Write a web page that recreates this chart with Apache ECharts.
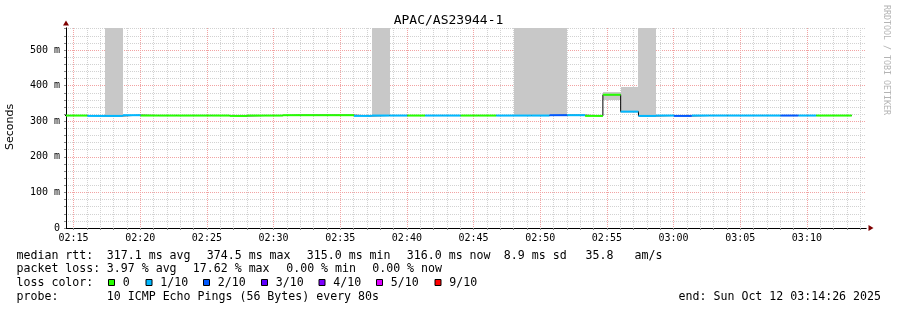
<!DOCTYPE html>
<html><head><meta charset="utf-8">
<script src="https://cdn.jsdelivr.net/npm/echarts@6/dist/echarts.min.js"></script>
<style>html,body{margin:0;padding:0;background:#fff}#c{width:897px;height:310px}</style>
</head><body><div id="c"></div>
<script>
// ---------- data ----------
const axisStart = '02:14:26';
const axisEnd = '03:14:26';
const stepTimes = ['02:13:22','02:14:42','02:16:02','02:17:22','02:18:42','02:20:02','02:21:22','02:22:42','02:24:02','02:25:22',
  '02:26:42','02:28:02','02:29:22','02:30:42','02:32:02','02:33:22','02:34:42','02:36:02','02:37:22','02:38:42',
  '02:40:02','02:41:22','02:42:42','02:44:02','02:45:22','02:46:42','02:48:02','02:49:22','02:50:42','02:52:02',
  '02:53:22','02:54:42','02:56:02','02:57:22','02:58:42','03:00:02','03:01:22','03:02:42','03:04:02','03:05:22',
  '03:06:42','03:08:02','03:09:22','03:10:42','03:12:02'];
const lastStepEnd = '03:13:22';
const medians = [316,316,315,315,317,316,316,316,316,316,
  315,316,316,317,317,317,317,315,316,316,
  316,316,316,316,316,316,316,316,317,317,
  315,374.5,327,315,316,315,316,316,316,316,
  316,316,316,316,316];
const lossLevels = [0,0,1,1,1,0,0,0,0,0,
  0,0,0,0,0,0,0,1,1,1,
  0,1,1,0,0,1,1,1,2,1,
  0,0,1,1,1,2,1,1,1,1,
  1,2,1,0,0];
const smokeLow = [null,null,null,315,null,null,null,null,null,null,
  null,null,null,null,null,null,null,null,316,null,
  null,null,null,null,null,null,316,316,317,null,
  null,359,327,315,null,null,null,null,null,null,
  null,null,null,null,null];
const smokeHigh = [null,null,null,562,null,null,null,null,null,null,
  null,null,null,null,null,null,null,null,562,null,
  null,null,null,null,null,null,562,562,562,null,
  null,381,397,562,null,null,null,null,null,null,
  null,null,null,null,null];
const lossNames = ['0','1/10','2/10','3/10','4/10','5/10','9/10'];
const lossColors = ['#26ff00','#00b8ff','#0059ff','#5e00ff','#7e00ff','#dd00ff','#ff0000'];
const xTickLabels = ['02:15','02:20','02:25','02:30','02:35','02:40','02:45','02:50','02:55','03:00','03:05','03:10'];
const yTickValues = [0,100,200,300,400,500];
const yTickLabels = ['0','100 m','200 m','300 m','400 m','500 m'];
const yMax = 562;
const title = 'APAC/AS23944-1';
const rttStats = ['317.1 ms avg','374.5 ms max','315.0 ms min','316.0 ms now','8.9 ms sd','35.8','am/s'];
const lossStats = ['3.97 % avg','17.62 % max','0.00 % min','0.00 % now'];
const probeText = '10 ICMP Echo Pings (56 Bytes) every 80s';
const endText = 'end: Sun Oct 12 03:14:26 2025';

// ---------- helpers ----------
function sec(s){const p=s.split(':').map(Number);return p[0]*3600+p[1]*60+(p[2]||0);}
function hhmm(v){const h=Math.floor(v/3600),m=Math.floor((v%3600)/60);return String(h).padStart(2,'0')+':'+String(m).padStart(2,'0');}
const tMin = sec(axisStart), tMax = sec(axisEnd);
const starts = stepTimes.map(sec);
const ends = starts.slice(1).concat([sec(lastStepEnd)]);
const majorVals = xTickLabels.map(sec);
const minuteVals = [];
for (let t = majorVals[0]; t <= tMax; t += 60) minuteVals.push(t);
const yGridVals = [];
for (let v = 0; v <= yMax; v += 20) yGridVals.push(v);

const lineData = starts.map((t,i)=>[t, ends[i], medians[i], lossLevels[i]]);
const smokeData = [];
starts.forEach((t,i)=>{ if (smokeLow[i]!=null) smokeData.push([t, ends[i], smokeLow[i], smokeHigh[i]]); });
const blackData = starts.map((t,i)=>[t, medians[i]]).concat([[ends[ends.length-1], medians[medians.length-1]]]);

const MONO = '"DejaVu Sans Mono"';
const FONT = '11.6px ' + MONO;
const gridRed = '#f2a3a3', gridGray = '#d2d2d2';

// ---------- graphic (legend texts) ----------
const rowY = [255.5, 269, 283, 297];
const graphics = [];
function txt(s, x, y, align){
  graphics.push({type:'text', x:x, y:y, silent:true,
    style:{text:s, font:FONT, fill:'#000', align:align||'left', verticalAlign:'middle', textAlign:align||'left', textVerticalAlign:'middle'}});
}
const labelX = 16.5;
const rttX = [106.8, 206.8, 306.8, 406.8, 503.8, 585.5, 634.5];
const lossX = [106.8, 192.8, 286.2, 372.2];
txt('median rtt:', labelX, rowY[0]);
rttStats.forEach((s,i)=>txt(s, rttX[i], rowY[0]));
txt('packet loss:', labelX, rowY[1]);
lossStats.forEach((s,i)=>txt(s, lossX[i], rowY[1]));
txt('loss color:', labelX, rowY[2]);
txt('probe:', labelX, rowY[3]);
txt(probeText, 106.8, rowY[3]);
txt(endText, 881, rowY[3], 'right');
const boxX = [108.5,146,203.5,261.5,319,376.5,435];
lossNames.forEach((n,i)=>{
  graphics.push({type:'rect', silent:true, shape:{x:boxX[i], y:rowY[2]-3.5, width:6, height:6},
    style:{fill:lossColors[i], stroke:'#000', lineWidth:1}});
  txt(n, boxX[i]+14.3, rowY[2]);
});
graphics.push({type:'text', x:10.5, y:127, rotation:Math.PI/2, silent:true,
  style:{text:'Seconds', font:'11px "DejaVu Sans"', fill:'#000', align:'center', verticalAlign:'middle', textAlign:'center', textVerticalAlign:'middle'}});
graphics.push({type:'text', x:886.5, y:60, rotation:-Math.PI/2, silent:true,
  style:{text:'RRDTOOL / TOBI OETIKER', font:'8.3px '+MONO, fill:'#b4b4b4', align:'center', verticalAlign:'middle', textAlign:'center', textVerticalAlign:'middle'}});

const chart = echarts.init(document.getElementById('c'), null, {renderer:'canvas'});
chart.setOption({
  animation:false,
  backgroundColor:'#fff',
  title:{text:title, left:'center', top:9, textStyle:{fontFamily:MONO, fontSize:13, fontWeight:'normal', color:'#000'}},
  grid:{left:66, top:28, width:800, height:200, containLabel:false},
  xAxis:[{
    type:'value', min:tMin, max:tMax, position:'bottom', z:3,
    axisLine:{show:true, onZero:false, lineStyle:{color:'#000', width:1}},
    axisTick:{show:true, customValues:minuteVals, length:2, lineStyle:{color:'#888'}},
    axisLabel:{show:true, customValues:majorVals, formatter:v=>hhmm(v), margin:5, color:'#000', fontFamily:MONO, fontSize:10},
    splitLine:{show:true, lineStyle:{color:[gridRed,gridGray,gridGray,gridGray,gridGray], type:[1,1], width:1}}
  },{
    type:'value', min:tMin, max:tMax, position:'bottom', z:2,
    axisLine:{show:true, onZero:false, lineStyle:{color:'#7f0000', width:1}, symbol:['none','triangle'], symbolSize:[6,5], symbolOffset:[0,5]},
    axisTick:{show:false}, axisLabel:{show:false}, splitLine:{show:false}
  }],
  yAxis:[{
    type:'value', min:0, max:yMax, position:'left', z:3,
    axisLine:{show:true, onZero:false, lineStyle:{color:'#000', width:1}},
    axisTick:{show:true, customValues:yGridVals, length:2, lineStyle:{color:'#888'}},
    axisLabel:{show:true, customValues:yTickValues, formatter:v=>yTickLabels[yTickValues.indexOf(v)], margin:6, color:'#000', fontFamily:MONO, fontSize:10},
    splitLine:{show:true, lineStyle:{color:[gridRed,gridGray,gridGray,gridGray,gridGray], type:[1,1], width:1}}
  },{
    type:'value', min:0, max:yMax, position:'left', z:2,
    axisLine:{show:true, onZero:false, lineStyle:{color:'#7f0000', width:1}, symbol:['none','triangle'], symbolSize:[6,5], symbolOffset:[0,5]},
    axisTick:{show:false}, axisLabel:{show:false}, splitLine:{show:false}
  }],
  graphic:graphics,
  series:[{
    type:'custom', name:'smoke', z:5, clip:true, silent:true,
    data:smokeData, encode:{x:[0,1], y:[2,3]},
    renderItem:function(params, api){
      const cs = params.coordSys;
      const a = api.coord([api.value(0), api.value(3)]);
      const b = api.coord([api.value(1), api.value(2)]);
      const x0 = Math.round(Math.max(a[0], cs.x)), x1 = Math.round(Math.min(b[0], cs.x+cs.width));
      const yt = Math.round(Math.max(a[1], cs.y));
      return {type:'rect', shape:{x:x0, y:yt, width:x1-x0, height:Math.round(b[1])-yt}, style:{fill:'#c8c8c8'}};
    }
  },{
    type:'line', name:'median', z:6, step:'end', data:blackData, symbol:'none', silent:true,
    lineStyle:{color:'#000', width:1}
  },{
    type:'custom', name:'loss', z:7, clip:true, silent:true,
    data:lineData, encode:{x:[0,1], y:2},
    renderItem:function(params, api){
      const cs = params.coordSys;
      const a = api.coord([api.value(0), api.value(2)]);
      const b = api.coord([api.value(1), api.value(2)]);
      const x0 = Math.max(a[0], cs.x), x1 = Math.min(b[0], cs.x+cs.width);
      return {type:'line', shape:{x1:x0, y1:a[1], x2:x1, y2:b[1]}, style:{stroke:lossColors[api.value(3)], lineWidth:2}};
    }
  }]
});
</script></body></html>
